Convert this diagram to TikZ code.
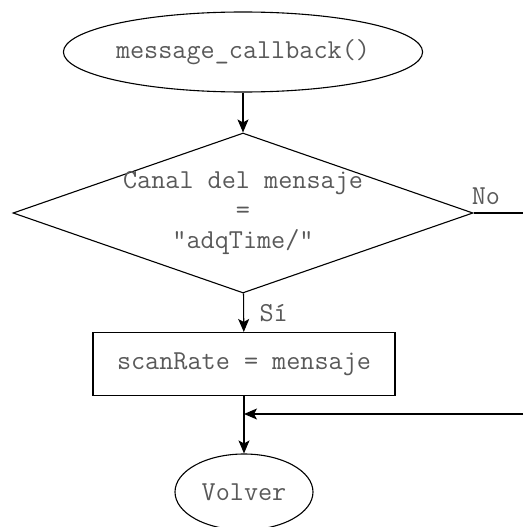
\documentclass[tikz,border=0pt]{standalone}
\usetikzlibrary{shapes.geometric, arrows.meta, positioning}

\tikzset{
  txt/.style={font=\ttfamily\fontsize{27.4}{30}\selectfont, text=black!65},
  terminal/.style={ellipse, draw, line width=1.1pt, inner sep=0pt, txt},
  decision/.style={diamond, draw, line width=1.1pt, inner sep=0pt,
    minimum width=460pt, minimum height=160pt},
  process/.style={rectangle, draw, line width=1.1pt, inner sep=0pt,
    minimum width=302pt, minimum height=63pt, txt},
  flow/.style={line width=1.1pt, -{Stealth[length=13pt,width=11pt,inset=3pt]}},
}

\begin{document}
\begin{tikzpicture}[x=1pt, y=-1pt]
  \useasboundingbox (0,0) rectangle (523,527);

  \node[terminal, minimum width=296pt, minimum height=80pt] (start) at (243,52) {message\_callback()};
  \node[decision, label={[txt, align=center]center:Canal del mensaje\\=\\"adqTime/"}] (cond) at (243,213) {};
  \node[process] (proc) at (244,364) {scanRate = mensaje};
  \node[terminal, minimum width=138pt, minimum height=76pt] (ret) at (244,492) {Volver};

  \coordinate (noend) at (523,213);
  \coordinate (back) at (523,414);
  \coordinate (join) at (244,414);

  \draw[flow] (start) -- (cond);
  \draw[flow] (cond) -- (proc) node[txt, pos=0.5, right=12pt] {Sí};
  \draw[flow] (proc) -- (ret);
  \draw[line width=1.1pt] (cond.east) -- (noend) node[txt, pos=0.25, above=4pt] {No};
  \draw[flow] (back) -- (join);
\end{tikzpicture}
\end{document}
